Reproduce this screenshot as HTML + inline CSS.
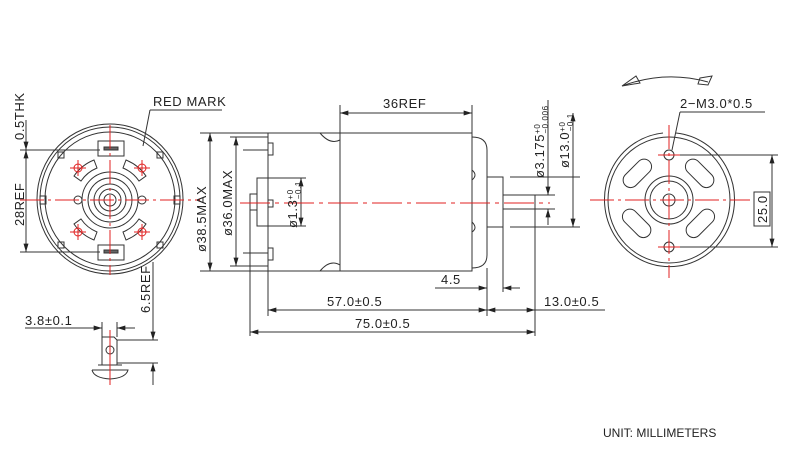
<!DOCTYPE html>
<html><head><meta charset="utf-8"><style>
html,body{margin:0;padding:0;background:#fff;}
svg{display:block;}
text{font-family:"Liberation Sans","DejaVu Sans",sans-serif;fill:#222;}
</style></head><body>
<svg width="790" height="454" viewBox="0 0 790 454" xmlns="http://www.w3.org/2000/svg">
<defs>
<marker id="a" viewBox="0 0 10 6" refX="10" refY="3" markerWidth="9" markerHeight="5" orient="auto-start-reverse"><path d="M0,0L10,3L0,6z" fill="#222"/></marker>
</defs>
<g stroke="#333" stroke-width="1" fill="none">
<!-- LEFT VIEW -->
<ellipse cx="110" cy="199" rx="73" ry="75"/>
<ellipse cx="110" cy="199" rx="70" ry="72"/>
<ellipse cx="110" cy="199" rx="65" ry="67"/>
<circle cx="110" cy="200" r="28"/>
<circle cx="110" cy="200" r="22"/>
<circle cx="110" cy="200" r="16"/>
<circle cx="110" cy="200" r="11"/>
<circle cx="110" cy="200" r="6"/>
<path d="M74,176 A44,44 0 0 1 94,160 L97,168 A36,36 0 0 0 81,181 Z"/>
<path d="M146,176 A44,44 0 0 0 126,160 L123,168 A36,36 0 0 1 139,181 Z"/>
<path d="M74,224 A44,44 0 0 0 94,240 L97,232 A36,36 0 0 1 81,219 Z"/>
<path d="M146,224 A44,44 0 0 1 126,240 L123,232 A36,36 0 0 0 139,219 Z"/>
<rect x="98" y="141" width="26" height="15" fill="#fff"/>
<rect x="104" y="147" width="14" height="3" fill="#666"/>
<rect x="98" y="245" width="26" height="15" fill="#fff"/>
<rect x="104" y="250" width="14" height="3" fill="#666"/>
<rect x="40" y="196" width="6" height="8"/><rect x="174" y="196" width="6" height="8"/>
<rect x="58" y="152" width="6" height="6"/><rect x="157" y="152" width="6" height="6"/>
<rect x="58" y="242" width="6" height="6"/><rect x="157" y="242" width="6" height="6"/>
<circle cx="78" cy="200" r="4"/><circle cx="142" cy="200" r="4"/>
<!-- dims left -->
<path d="M20,150 H100 M20,252 H100"/>
<line x1="26" y1="120" x2="26" y2="150" marker-end="url(#a)"/>
<line x1="26" y1="150" x2="26" y2="252" marker-start="url(#a)" marker-end="url(#a)"/>
<path d="M150,110 H222 M150,110 L143,146"/>
<line x1="153" y1="262" x2="153" y2="340" marker-end="url(#a)"/>
<line x1="153" y1="363" x2="153" y2="385" marker-start="url(#a)"/>
<path d="M117,340 H158 M117,363 H158"/>
<path d="M25,328 H100"/>
<line x1="80" y1="328" x2="102" y2="328" marker-end="url(#a)"/>
<line x1="135" y1="328" x2="117" y2="328" marker-end="url(#a)"/>
<path d="M102,322 V337 M117,322 V337"/>
<path d="M102,365 V337 H114 L117,340 V365"/>
<path d="M98,365 H122 M92,370 H128 Q126,378 110,379 Q94,378 92,370"/>
<circle cx="110" cy="350" r="4"/>
<!-- MIDDLE VIEW -->
<path d="M268,133 H340 V271 H268 Z"/>
<path d="M340,133 H472 V271 H340"/>
<path d="M472,137 Q487,137 487,150 V255 Q487,268 472,268"/>
<path d="M472,170 Q478,175 472,180 M472,222 Q478,228 472,232"/>
<path d="M320,133 Q330,145 340,140 M320,271 Q330,259 340,265"/>
<rect x="487" y="177" width="16" height="50"/>
<rect x="503" y="195" width="32" height="14"/>
<path d="M268,178 H257 V226 H268 M257,194 H250 V210 H257"/>
<rect x="268" y="200" width="5" height="7"/>
<path d="M243,150 H268 M243,253 H268 M268,143 H273 V155 H268 M268,248 H273 V260 H268"/>
<line x1="340" y1="113" x2="472" y2="113" marker-start="url(#a)" marker-end="url(#a)"/>
<path d="M340,105 V133 M472,105 V133"/>
<path d="M200,133 H268 M200,271 H268"/>
<line x1="210" y1="133" x2="210" y2="271" marker-start="url(#a)" marker-end="url(#a)"/>
<line x1="236" y1="137" x2="236" y2="266" marker-start="url(#a)" marker-end="url(#a)"/>
<path d="M230,137 H268 M230,266 H268"/>
<line x1="301" y1="178" x2="301" y2="226" marker-start="url(#a)" marker-end="url(#a)"/>
<path d="M257,178 H306 M257,226 H306"/>
<path d="M535,195 H555 M535,209 H555 M510,177 H580 M510,227 H580"/>
<line x1="548" y1="100" x2="548" y2="195" marker-end="url(#a)"/>
<line x1="548" y1="225" x2="548" y2="209" marker-end="url(#a)"/>
<line x1="573" y1="113" x2="573" y2="227" marker-start="url(#a)" marker-end="url(#a)"/>
<path d="M268,271 V316 M487,268 V316 M250,210 V336 M535,209 V336 M503,227 V292"/>
<line x1="435" y1="288" x2="487" y2="288" marker-end="url(#a)"/>
<line x1="520" y1="288" x2="503" y2="288" marker-end="url(#a)"/>
<line x1="268" y1="310" x2="487" y2="310" marker-start="url(#a)" marker-end="url(#a)"/>
<line x1="487" y1="310" x2="535" y2="310" marker-start="url(#a)" marker-end="url(#a)"/>
<path d="M535,310 H605"/>
<line x1="250" y1="332" x2="535" y2="332" marker-start="url(#a)" marker-end="url(#a)"/>
<!-- RIGHT VIEW -->
<path d="M663,133 A65,67 0 1 0 676,133"/>
<ellipse cx="669" cy="200" rx="61" ry="63"/>
<circle cx="669" cy="200" r="24"/>
<circle cx="669" cy="200" r="19"/>
<circle cx="669" cy="200" r="6"/>
<circle cx="669" cy="155" r="5"/>
<circle cx="669" cy="247" r="5"/>
<rect x="620" y="166" width="34" height="15" rx="7.5" transform="rotate(-45 637 173)"/>
<rect x="683" y="166" width="34" height="15" rx="7.5" transform="rotate(45 700 173)"/>
<rect x="620" y="216" width="34" height="15" rx="7.5" transform="rotate(45 637 223)"/>
<rect x="683" y="216" width="34" height="15" rx="7.5" transform="rotate(-45 700 223)"/>
<path d="M622,86 Q665,70 708,82 M622,86 L636,76 L640,83 Z M700,78 L712,76 L708,85 L698,84 Z"/>
<path d="M680,112 H765 M680,112 L672,150"/>
<path d="M680,155 H778 M680,247 H778"/>
<line x1="772" y1="155" x2="772" y2="247" marker-start="url(#a)" marker-end="url(#a)"/>
<rect x="754" y="192" width="16" height="34" fill="#fff"/>
</g>
<!-- centerlines -->
<g stroke="#e02020" stroke-width="1" fill="none">
<path d="M20,200 H200" stroke-dasharray="24,4,3,4"/>
<path d="M110,125 V275" stroke-dasharray="24,4,3,4"/>
<path d="M110,330 V385"/>
<path d="M240,203 H550" stroke-dasharray="30,5,4,5"/>
<path d="M590,200 H750" stroke-dasharray="24,4,3,4"/>
<path d="M669,125 V278" stroke-dasharray="24,4,3,4"/>
<path d="M70,168 H86 M78,160 V176 M134,168 H150 M142,160 V176 M70,232 H86 M78,224 V240 M134,232 H150 M142,224 V240"/>
<path d="M658,155 H680 M658,247 H680"/>
<circle cx="78" cy="168" r="4"/><circle cx="142" cy="168" r="4"/><circle cx="78" cy="232" r="4"/><circle cx="142" cy="232" r="4"/>
</g>
<g font-size="13" letter-spacing="0.6">
<text x="153" y="106">RED MARK</text>
<text x="25" y="325">3.8±0.1</text>
<text x="383" y="108">36REF</text>
<text x="441" y="284">4.5</text>
<text x="327" y="306">57.0±0.5</text>
<text x="544" y="306">13.0±0.5</text>
<text x="355" y="328">75.0±0.5</text>
<text x="680" y="108">2−M3.0*0.5</text>
<text transform="translate(24,140) rotate(-90)">0.5THK</text>
<text transform="translate(24,226) rotate(-90)">28REF</text>
<text transform="translate(150,313) rotate(-90)">6.5REF</text>
<text transform="translate(206,252) rotate(-90)">ø38.5MAX</text>
<text transform="translate(232,236) rotate(-90)">ø36.0MAX</text>
<text transform="translate(297,228) rotate(-90)">ø1.3<tspan font-size="8" dy="-4">+0</tspan><tspan font-size="8" dx="-10" dy="8">−0.1</tspan></text>
<text transform="translate(544,178) rotate(-90)">ø3.175<tspan font-size="8" dy="-4">+0</tspan><tspan font-size="8" dx="-10" dy="8">−0.006</tspan></text>
<text transform="translate(569,168) rotate(-90)">ø13.0<tspan font-size="8" dy="-4">+0</tspan><tspan font-size="8" dx="-10" dy="8">−0.1</tspan></text>
<text transform="translate(767,223) rotate(-90)">25.0</text>
</g>
<text x="603" y="437" font-size="12">UNIT: MILLIMETERS</text>
</svg>
</body></html>
